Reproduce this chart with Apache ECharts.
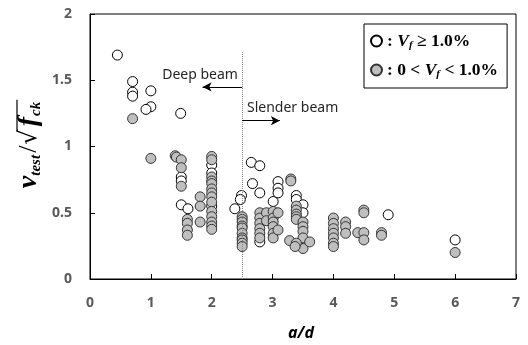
<!DOCTYPE html>
<html><head><meta charset="utf-8">
<script src="https://cdn.jsdelivr.net/npm/echarts@6/dist/echarts.min.js"></script>
<style>html,body{margin:0;padding:0;background:#fff}#c{width:528px;height:345px}</style>
</head><body><div id="c"></div>
<script>
const xTicks = [0, 1, 2, 3, 4, 5, 6, 7];
const yTicks = [0, 0.5, 1, 1.5, 2];

// Vf >= 1.0 % (open circles)
const openX = [0.45, 0.70, 0.70, 0.70, 1.00, 1.00, 0.92, 1.49,
  1.50, 1.50, 1.50, 1.61,
  2.00, 2.00, 2.00,
  2.49, 2.47, 2.38,
  2.65, 2.79, 2.67, 2.79, 2.79,
  3.01, 3.09, 3.09, 3.09,
  3.39, 3.39, 3.50, 3.50,
  4.90, 6.00];
const openY = [1.69, 1.49, 1.41, 1.38, 1.42, 1.30, 1.28, 1.25,
  0.77, 0.74, 0.56, 0.53,
  0.86, 0.80, 0.55,
  0.63, 0.60, 0.53,
  0.88, 0.855, 0.72, 0.65, 0.28,
  0.585, 0.735, 0.685, 0.65,
  0.63, 0.60, 0.56, 0.50,
  0.485, 0.295];

// 0 < Vf < 1.0 % (grey circles)
const fillX = [0.70, 1.00,
  1.40, 1.42, 1.50, 1.50, 1.50,
  1.60, 1.60, 1.60, 1.60,
  1.81, 1.81, 1.81,
  2.00, 2.00, 2.00, 2.00, 2.00, 2.00, 2.00, 2.00, 2.00, 2.00, 2.00, 2.00, 2.00, 2.00,
  2.50, 2.50, 2.50, 2.50, 2.50, 2.50, 2.50, 2.50, 2.50, 2.50,
  2.79, 2.79, 2.79, 2.79, 2.79, 2.79,
  2.90, 2.90,
  3.01, 3.01, 3.01, 3.01, 3.01, 3.01,
  3.09, 3.09,
  3.30, 3.30,
  3.39, 3.39, 3.39, 3.39, 3.39,
  3.50, 3.50, 3.50, 3.50, 3.50,
  3.28, 3.39, 3.61, 3.37,
  4.00, 4.00, 4.00, 4.00, 4.00, 4.00, 4.00,
  4.20, 4.20, 4.20,
  4.40,
  4.50, 4.50, 4.50, 4.50,
  4.79, 4.79,
  6.00];
const fillY = [1.21, 0.91,
  0.93, 0.92, 0.90, 0.84, 0.70,
  0.45, 0.42, 0.37, 0.33,
  0.62, 0.55, 0.43,
  0.925, 0.90, 0.77, 0.74, 0.72, 0.68, 0.65, 0.62, 0.58, 0.51, 0.47, 0.43, 0.40, 0.375,
  0.47, 0.45, 0.43, 0.40, 0.385, 0.345, 0.31, 0.295, 0.27, 0.245,
  0.50, 0.46, 0.42, 0.38, 0.345, 0.31,
  0.50, 0.44,
  0.51, 0.46, 0.43, 0.395, 0.345, 0.31,
  0.50, 0.37,
  0.755, 0.74,
  0.55, 0.52, 0.49, 0.47, 0.45,
  0.43, 0.395, 0.36, 0.31, 0.23,
  0.29, 0.27, 0.28, 0.245,
  0.46, 0.42, 0.38, 0.345, 0.31, 0.27, 0.245,
  0.43, 0.395, 0.345,
  0.35,
  0.52, 0.50, 0.35, 0.295,
  0.35, 0.33,
  0.20];

const seriesNames = ['Vf >= 1.0%', '0 < Vf < 1.0%'];
const boundaryX = 2.5;
const boundaryTop = 1.71;
const deepArrow = [[2.5, 1.45], [1.85, 1.45]];
const slenderArrow = [[2.5, 1.195], [3.12, 1.195]];
const deepLabelPos = [2.43, 1.54];
const slenderLabelPos = [2.58, 1.29];

const zip = (xs, ys) => xs.map((x, i) => [x, ys[i]]);
const tickFont = {color: '#595959', fontWeight: 'bold', fontSize: 14, fontFamily: 'Noto Sans'};
const serif = 'Liberation Serif';

// y-axis title pieces: v_test / sqrt(f_ck)
const titleParts = [
  {t: 'v', style: 'italic', weight: 'bold', size: 28, family: serif, dy: 0, pre: 0},
  {t: 'test', style: 'italic', weight: 'bold', size: 15, family: serif, dy: 7, pre: 0},
  {t: '/', style: 'normal', weight: 'normal', size: 26, family: serif, dy: 0, pre: 2},
  {t: '\u221A', style: 'normal', weight: 'normal', size: 24, family: 'DejaVu Serif', dy: 1, pre: 1, root: true},
  {t: 'f', style: 'italic', weight: 'bold', size: 28, family: serif, dy: 0, pre: 3, under: true},
  {t: 'ck', style: 'italic', weight: 'bold', size: 15, family: serif, dy: 7, pre: 1, under: true}
];
const ctx = document.createElement('canvas').getContext('2d');
let cx = 0, barStart = null, barEnd = 0;
const titleChildren = [];
titleParts.forEach(p => {
  ctx.font = `${p.style} ${p.weight} ${p.size}px "${p.family}"`;
  const w = ctx.measureText(p.t).width;
  cx += p.pre;
  titleChildren.push({type: 'text', x: cx, y: p.dy, silent: true,
    style: {text: p.t, fontStyle: p.style, fontWeight: p.weight, fontSize: p.size, fontFamily: p.family,
      fill: '#000', align: 'left', verticalAlign: 'middle'}});
  if (p.root) barStart = cx + w * 0.85;
  cx += w;
  if (p.under) barEnd = cx + 2;
});
titleChildren.push({type: 'line', silent: true,
  shape: {x1: barStart, y1: -12, x2: barEnd, y2: -12}, style: {stroke: '#000', lineWidth: 1.2}});
const titleLen = cx;

const chart = echarts.init(document.getElementById('c'), null, {renderer: 'canvas'});
chart.setOption({
  animation: false,
  grid: {left: 90, right: 12, top: 14, bottom: 66, show: true, borderColor: '#000', borderWidth: 1},
  xAxis: {
    type: 'value', min: xTicks[0], max: xTicks[xTicks.length - 1], interval: 1,
    axisLine: {show: true, lineStyle: {color: '#000', width: 1}},
    axisTick: {show: true, inside: true, length: 5, lineStyle: {color: '#000'}},
    splitLine: {show: false},
    axisLabel: Object.assign({margin: 17}, tickFont)
  },
  yAxis: {
    type: 'value', min: yTicks[0], max: yTicks[yTicks.length - 1], interval: 0.5,
    axisLine: {show: true, lineStyle: {color: '#000', width: 1}},
    axisTick: {show: true, inside: true, length: 5, lineStyle: {color: '#000'}},
    splitLine: {show: false},
    axisLabel: Object.assign({margin: 18, formatter: v => String(v)}, tickFont)
  },
  legend: {
    data: seriesNames,
    orient: 'vertical', left: 364, top: 24,
    backgroundColor: '#fff', borderColor: '#000', borderWidth: 1,
    padding: [8, 9, 8, 6], itemGap: 10, itemWidth: 11, itemHeight: 11, icon: 'circle',
    selectedMode: false,
    formatter: n => n === seriesNames[0]
      ? '{b|: }{i|V}{s|f}{b| \u2265 1.0%}'
      : '{b|: 0 < }{i|V}{s|f}{b| < 1.0%}',
    textStyle: {
      color: '#000',
      rich: {
        b: {fontFamily: serif, fontWeight: 'bold', fontSize: 17.5, color: '#000'},
        i: {fontFamily: serif, fontWeight: 'bold', fontStyle: 'italic', fontSize: 17.5, color: '#000'},
        s: {fontFamily: serif, fontWeight: 'bold', fontStyle: 'italic', fontSize: 11, color: '#000', padding: [9, 0, 0, 0]}
      }
    }
  },
  series: [
    {
      name: seriesNames[0], type: 'scatter', symbol: 'circle', symbolSize: 10,
      itemStyle: {color: '#fff', borderColor: '#000', borderWidth: 1, opacity: 1},
      data: zip(openX, openY), z: 3
    },
    {
      name: seriesNames[1], type: 'scatter', symbol: 'circle', symbolSize: 10,
      itemStyle: {color: '#bfbfbf', borderColor: '#333', borderWidth: 1, opacity: 1},
      data: zip(fillX, fillY), z: 4
    },
    {
      name: 'annot', type: 'scatter', data: [], silent: true,
      markLine: {
        silent: true, animation: false, symbol: ['none', 'none'],
        label: {show: false},
        lineStyle: {type: 'dotted', color: '#808080', width: 1},
        data: [
          [{coord: [boundaryX, 0]}, {coord: [boundaryX, boundaryTop]}],
          [{coord: deepArrow[0], symbol: 'none', lineStyle: {type: 'solid', color: '#000', width: 1}},
           {coord: deepArrow[1], symbol: 'arrow', symbolSize: [7, 9]}],
          [{coord: slenderArrow[0], symbol: 'none', lineStyle: {type: 'solid', color: '#000', width: 1}},
           {coord: slenderArrow[1], symbol: 'arrow', symbolSize: [7, 9]}]
        ]
      },
      markPoint: {
        silent: true, animation: false, symbol: 'circle', symbolSize: 0,
        data: [
          {coord: deepLabelPos, label: {show: true, formatter: 'Deep beam', position: 'left', distance: 0,
            color: '#262626', fontSize: 14, fontFamily: 'Noto Sans'}},
          {coord: slenderLabelPos, label: {show: true, formatter: 'Slender beam', position: 'right', distance: 0,
            color: '#262626', fontSize: 14, fontFamily: 'Noto Sans'}}
        ]
      }
    }
  ],
  graphic: [
    {
      type: 'text', x: 301, y: 333, silent: true,
      style: {text: 'a/d', fontFamily: 'Noto Sans', fontWeight: 'bold', fontStyle: 'italic', fontSize: 16,
        fill: '#000', align: 'center', verticalAlign: 'middle'}
    },
    {
      type: 'group', x: 29, y: 145 + titleLen / 2, rotation: Math.PI / 2, silent: true,
      children: titleChildren
    }
  ]
});
</script>
</body></html>
